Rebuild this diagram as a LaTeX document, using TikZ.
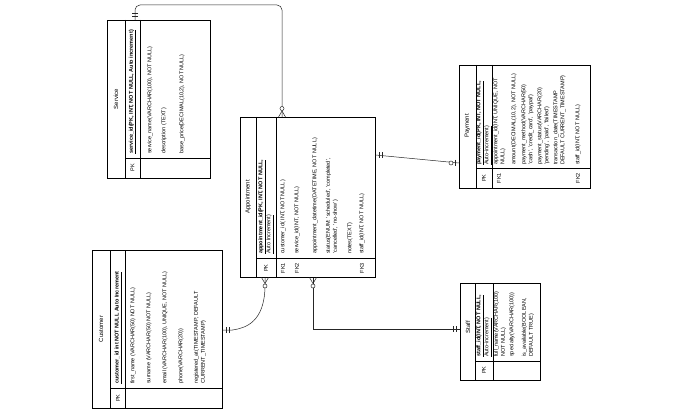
\documentclass[tikz,border=0pt]{standalone}
\usepackage{fontspec}
\setmainfont{Liberation Sans}
\usetikzlibrary{calc}
\tikzset{
 tbl/.style={draw, line width=0.5pt, inner sep=0, anchor=north west},
 sep/.style={line width=0.5pt},
 rt/.style={rotate=90, anchor=west, inner sep=0, font=\fontsize{5.5}{7}\selectfont, align=left},
 ttl/.style={rotate=90, inner sep=0, font=\fontsize{6}{7}\selectfont},
 keyl/.style={rotate=90, inner sep=0, font=\fontsize{5.5}{7}\selectfont},
 conn/.style={line width=0.5pt, draw=black!85},
 pics/mone/.style={code={\draw[conn] (-4,-3)--(-4,3) (-7,-3)--(-7,3);}},
 pics/zmany/.style={code={\draw[conn] (0,-3.5)--(-6,0)--(0,3.5); \draw[conn, fill=white] (-8.5,0) circle (2);}},
 pics/zone/.style={code={\draw[conn] (-4,-3)--(-4,3); \draw[conn, fill=white] (-8,0) circle (2);}},
}
\begin{document}
\begin{tikzpicture}[x=1pt,y=-1pt]
\useasboundingbox[fill=white] (0,0) rectangle (680,409);

% ---------- Service ----------
\node[tbl, minimum width=103pt, minimum height=158pt] (svc) at (107,20) {};
\draw[sep] (125,20)--(125,178) (140,20)--(140,178) (125,158)--(210,158);
\node[ttl] (svcT) at (116,99) {Service};
\node[keyl] (svcK) at (132.5,168) {PK};
\node[rt] (svc1) at (132.5,154) {\underline{\textbf{service\_id(PK, INT, NOT NULL, Auto increment)}}};
\node[rt] (svc2) at (150,154) {service\_name(VARCHAR(100), NOT NULL)};
\node[rt] (svc3) at (164,154) {description (TEXT)};
\node[rt] (svc4) at (182,154) {base\_price(DECIMAL(10,2), NOT NULL)};

% ---------- Customer ----------
\node[tbl, minimum width=130pt, minimum height=158pt] (cus) at (92,250) {};
\draw[sep] (110.5,250)--(110.5,408) (125.5,250)--(125.5,408) (110.5,388)--(222,388);
\node[ttl] (cusT) at (101,329) {Customer};
\node[keyl] (cusK) at (118,398) {PK};
\node[rt] (cus1) at (118,384) {\underline{\textbf{customer\_id int NOT NULL Auto Increment}}};
\node[rt] (cus2) at (133,384) {first\_name (VARCHAR(50) NOT NULL)};
\node[rt] (cus3) at (149,384) {surname (VARCHAR(50) NOT NULL)};
\node[rt] (cus4) at (165,384) {email (VARCHAR(100), UNIQUE, NOT NULL)};
\node[rt] (cus5) at (181,384) {phone(VARCHAR(20))};
\node[rt] (cus6) at (200,384) {registered\_at(TIMESTAMP, DEFAULT\\CURRENT\_TIMESTAMP)};

% ---------- Appointment ----------
\node[tbl, minimum width=135pt, minimum height=160pt] (app) at (240,117) {};
\draw[sep] (256,117)--(256,277) (276,117)--(276,277) (256,258)--(375,258);
\node[ttl] (appT) at (248,197) {Appointment};
\node[keyl] (appK) at (266,268) {PK};
\node[keyl] (appF1) at (283,268) {FK1};
\node[keyl] (appF2) at (297,268) {FK2};
\node[keyl] (appF3) at (362,268) {FK3};
\node[rt] (app1) at (266,254) {\underline{\textbf{appointment\_id(PK, INT, NOT NULL,}}\\\underline{Auto Increment)}};
\node[rt] (app2) at (283,254) {customer\_id( INT, NOT NULL)};
\node[rt] (app3) at (297,254) {service\_id(INT, NOT NULL)};
\node[rt] (app4) at (315,254) {appointment\_datetime(DATETIME, NOT NULL)};
\node[rt] (app5) at (332,254) {status(ENUM: 'scheduled', 'completed',\\'cancelled', 'no-show')};
\node[rt] (app6) at (350,254) {notes(TEXT)};
\node[rt] (app7) at (362,254) {staff\_id(INT, NOT NULL)};

% ---------- Payment ----------
\node[tbl, minimum width=131pt, minimum height=123pt] (pay) at (459,65) {};
\draw[sep] (476,65)--(476,188) (492,65)--(492,188) (476,168)--(590,168);
\node[ttl] (payT) at (467.5,126) {Payment};
\node[keyl] (payK) at (484,178) {PK};
\node[keyl] (payF1) at (499,178) {FK1};
\node[keyl] (payF2) at (578,178) {FK2};
\node[rt] (pay1) at (484,165) {\underline{\textbf{payment\_id(PK, INT, NOT NULL,}}\\\underline{Auto-increment)}};
\node[rt] (pay2) at (499.5,165) {appointment\_id(INT, UNIQUE, NOT\\NULL)};
\node[rt] (pay3) at (514,165) {amount(DECIMAL(10,2), NOT NULL)};
\node[rt] (pay4) at (527.5,165) {payment\_method(VARCHAR(50)\\'cash', 'credit\_card', 'paypal')};
\node[rt] (pay5) at (543.5,165) {payment\_status(VARCHAR(20)\\'pending', 'paid', 'failed')};
\node[rt] (pay6) at (559.5,165) {transaction\_date(TIMESTAMP\\DEFAULT CURRENT\_TIMESTAMP)};
\node[rt] (pay7) at (578,165) {staff\_id(INT, NOT NULL)};

% ---------- Staff ----------
\node[tbl, minimum width=80pt, minimum height=97pt] (stf) at (460,283) {};
\draw[sep] (475.5,283)--(475.5,380) (493,283)--(493,380) (475.5,361)--(540,361);
\node[ttl] (stfT) at (468,327) {Staff};
\node[keyl] (stfK) at (484,370) {PK};
\node[rt] (stf1) at (484,357) {\underline{\textbf{staff\_id(INT, NOT NULL,}}\\\underline{Auto-increment)}};
\node[rt] (stf2) at (500,357) {full\_name(VARCHAR(100)\\NOT NULL)};
\node[rt] (stf3) at (512,357) {specialty(VARCHAR(100))};
\node[rt] (stf4) at (528,357) {is\_available(BOOLEAN,\\DEFAULT TRUE)};

% ---------- connectors ----------
\coordinate (sA) at ($(svc.north west)+(28,0)$);
\coordinate (aT) at ($(app.north west)+(42,0)$);
\draw[conn, rounded corners=5pt] (sA) -- ++(0,-15) -| (aT);
\pic[rotate=-90] at (sA) {mone};
\pic[rotate=-90] at (aT) {zmany};

\coordinate (aB1) at ($(app.south west)+(25,0)$);
\coordinate (cR) at ($(cus.north east)+(0,80)$);
\draw[conn] (aB1) -- ++(0,10) .. controls (264,322) and (246,328) .. ($(cR)+(10,0)$) -- (cR);
\pic[rotate=90] at (aB1) {zmany};
\pic[rotate=180] at (cR) {mone};

\coordinate (aB2) at ($(app.south west)+(73,0)$);
\coordinate (sL) at ($(stf.north west)+(0,46)$);
\draw[conn] (aB2) |- (sL);
\pic[rotate=90] at (aB2) {zmany};
\pic at (sL) {mone};

\coordinate (aR) at ($(app.north east)+(0,38)$);
\coordinate (pL) at ($(pay.north west)+(0,98)$);
\draw[conn] (aR) -- (pL);
\pic[rotate=180] at (aR) {mone};
\pic at (pL) {zone};
\end{tikzpicture}
\end{document}
